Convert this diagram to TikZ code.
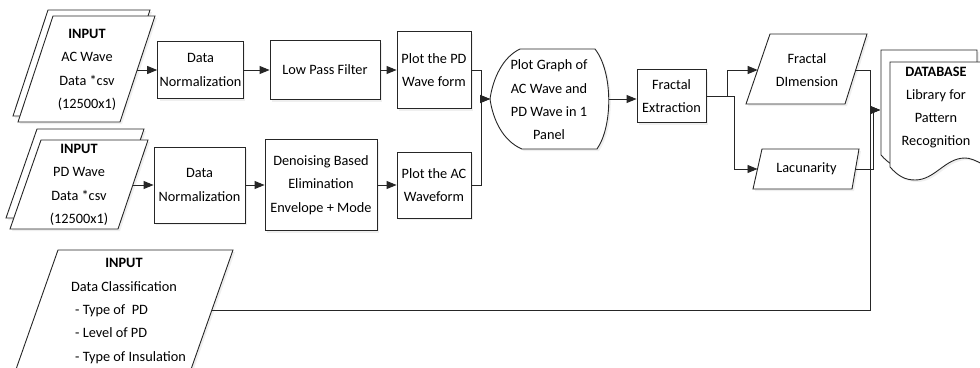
\documentclass[tikz,border=0pt]{standalone}
\usepackage{fontspec}
\setmainfont{Carlito}
\usetikzlibrary{arrows.meta,shadows}
\begin{document}
\begin{tikzpicture}[x=1pt,y=-1pt,
  every node/.style={font=\fontsize{14.3}{23.3}\selectfont, align=center, inner sep=0pt},
  shp/.style={draw=black!85, fill=white, line width=0.9pt, drop shadow={shadow xshift=2pt, shadow yshift=-2pt, fill=black!12}},
  box/.style={shp, inner sep=2pt},
  link/.style={draw=black!85, line width=0.9pt, ->, >={Triangle[length=10pt,width=8pt]}}]
\useasboundingbox (0,0) rectangle (980,367);
\clip (0,0) rectangle (980,367);

\draw[shp] (48,10) -- (150,10) -- (115,116) -- (13,116) -- cycle;
\draw[shp] (53,16) -- (155,16) -- (120,122) -- (18,122) -- cycle;
\node (acin) at (87,70) {\textbf{INPUT}\\AC Wave\\Data *csv\\(12500x1)};
\coordinate (acout) at (137.2,70);

\draw[shp] (37,129) -- (144,129) -- (114,218) -- (6,218) -- cycle;
\draw[shp] (41,140) -- (148,140) -- (118,229) -- (10,229) -- cycle;
\node (pdin) at (79,185) {\textbf{INPUT}\\PD Wave\\Data *csv\\(12500x1)};
\coordinate (pdout) at (132.8,185);

\draw[shp] (58,250) -- (233,250) -- (189,375) -- (14,375) -- cycle;
\node (clsin) at (124,275) {\textbf{INPUT}\\Data Classification};
\node[align=left, anchor=west] (clslist) at (75,334) {- Type of\ \ PD\\- Level of PD\\- Type of Insulation};
\coordinate (clsout) at (212,310);

\node[box, minimum width=85pt, minimum height=57pt] (dn1) at (200.5,70) {Data\\Normalization};
\node[box, minimum width=110pt, minimum height=59pt] (lpf) at (325,70) {Low Pass Filter};
\node[box, minimum width=74pt, minimum height=77pt] (pdplot) at (434,70) {Plot the PD\\Wave form};

\node[box, minimum width=91pt, minimum height=76pt] (dn2) at (199.5,185) {Data\\Normalization};
\node[box, minimum width=112pt, minimum height=91pt] (den) at (321,185) {Denoising Based\\Elimination\\Envelope + Mode};
\node[box, minimum width=74pt, minimum height=66pt] (acplot) at (434,185) {Plot the AC\\Waveform};

\draw[shp] (490,99) .. controls (493,78) and (503,57) .. (520,49) -- (595,49) .. controls (613,72) and (613,126) .. (597,149) -- (522,149) .. controls (503,141) and (493,120) .. (490,99) -- cycle;
\node (disp) at (549,100) {Plot Graph of\\AC Wave and\\PD Wave in 1\\Panel};
\coordinate (dispL) at (490,99);
\coordinate (dispR) at (609,99);
\coordinate (jn) at (481,99);

\node[box, minimum width=69pt, minimum height=53pt] (fe) at (671.5,96) {Fractal\\Extraction};

\draw[shp] (770,34) -- (867,34) -- (845,104) -- (746,104) -- cycle;
\node (fd) at (807,70) {Fractal\\DImension};
\coordinate (fdin) at (757.7,70);
\coordinate (fdout) at (855.7,70);

\draw[shp] (762,149) -- (859,149) -- (852,189) -- (753,189) -- cycle;
\node (lac) at (806.5,169) {Lacunarity};
\coordinate (lacin) at (757.5,169);
\coordinate (lacout) at (855.5,169);

\draw[shp, shift={(-9,-12)}] (890,62) -- (986,62) -- (986,166) .. controls (975,160) and (970,158) .. (965,158) .. controls (945,158) and (935,180) .. (915,180) .. controls (905,180) and (898,176) .. (890,167) -- cycle;
\draw[shp] (890,62) -- (986,62) -- (986,166) .. controls (975,160) and (970,158) .. (965,158) .. controls (945,158) and (935,180) .. (915,180) .. controls (905,180) and (898,176) .. (890,167) -- cycle;
\node (db) at (936,107.5) {\textbf{DATABASE}\\Library for\\Pattern\\Recognition};
\coordinate (dbin) at (880,110);

\draw[link] (acout) -- (dn1.west);
\draw[link] (dn1) -- (lpf);
\draw[link] (lpf) -- (pdplot);
\draw[link] (pdout) -- (dn2.west);
\draw[link] (dn2) -- (den);
\draw[link] (den) -- (acplot);
\draw[link] (pdplot.east) -| (jn) -- (dispL);
\draw[link] (acplot.east) -| (jn) -- (dispL);
\draw[link] (dispR) -- (dispR -| fe.west);
\draw[link] (fe.east) -- ++(21,0) |- (fdin);
\draw[link] (fe.east) -- ++(28,0) |- (lacin);
\draw[link] (fdout) -| ([xshift=-10pt]dbin) -- (dbin);
\draw[link] (lacout) -| ([xshift=-7pt]dbin) -- (dbin);
\draw[link] (clsout) -| ([xshift=-10pt]dbin) -- (dbin);
\end{tikzpicture}
\end{document}
